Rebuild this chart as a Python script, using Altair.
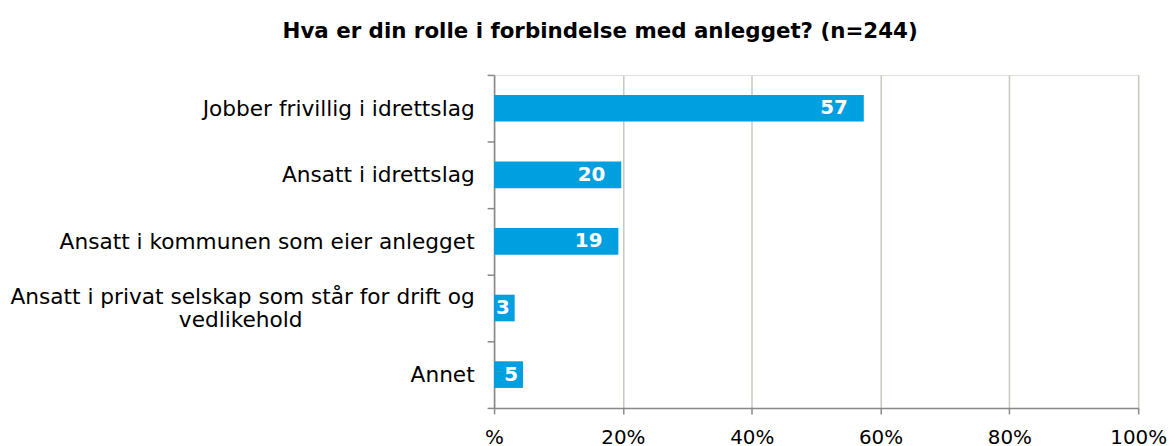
import altair as alt
import pandas as pd
import json

NBSP = "\u00a0"
ZW = "\u200b"

categories = [
    "Jobber frivillig i idrettslag",
    "Ansatt i idrettslag",
    "Ansatt i kommunen som eier anlegget",
    "Ansatt i privat selskap som står for drift og",
    "Annet",
]
label_lines = [
    ["Jobber frivillig i idrettslag"],
    ["Ansatt i idrettslag"],
    ["Ansatt i kommunen som eier anlegget"],
    ["Ansatt i privat selskap som står for drift og", "vedlikehold" + NBSP * 25 + ZW],
    ["Annet"],
]
values = [57.4, 19.75, 19.3, 3.2, 4.5]
labels = ["57", "20", "19", "3", "5"]
x_ticks = [0, 20, 40, 60, 80, 100]

df = pd.DataFrame({"cat": categories, "value": values, "label": labels})

label_map = json.dumps(dict(zip(categories, label_lines)), ensure_ascii=False)

FONT = "DejaVu Sans"
BAR = "#009FDF"

y_enc = alt.Y(
    "cat:N",
    sort=categories,
    title=None,
    scale=alt.Scale(paddingInner=0, paddingOuter=0),
    axis=alt.Axis(
        labelExpr=f"{label_map}[datum.value]",
        labelFont=FONT,
        labelFontSize=21.8,
        labelColor="#000000",
        labelPadding=13,
        labelLineHeight=24,
        labelLimit=600,
        labelOffset={
            "condition": {"test": f"datum.value == '{categories[3]}'", "value": -12},
            "value": 0,
        },
        tickBand="extent",
        tickSize=7,
        tickColor="#888888",
        domainColor="#888888",
        domainWidth=1.5,
        tickWidth=1.5,
        grid=False,
    ),
)

x_enc = alt.X(
    "value:Q",
    title=None,
    scale=alt.Scale(domain=[0, 100], nice=False),
    axis=alt.Axis(
        values=x_ticks,
        labelExpr="datum.value == 0 ? '%' : datum.value + '%'",
        labelFont=FONT,
        labelFontSize=20,
        labelColor="#000000",
        labelPadding=14,
        labelFlush=False,
        tickSize=6,
        tickColor="#888888",
        domainColor="#888888",
        domainWidth=1.5,
        tickWidth=1.5,
        gridColor="#C8C8BE",
        gridWidth=1.5,
        gridOpacity=1,
    ),
)

bars = alt.Chart(df).mark_bar(color=BAR, height={"band": 0.4}).encode(x=x_enc, y=y_enc)

big = alt.Chart(df).transform_filter("datum.value >= 10").mark_text(
    align="right", baseline="middle", dx=-16, font=FONT, fontSize=20,
    fontWeight="bold", color="white"
).encode(x="value:Q", y=alt.Y("cat:N", sort=categories), text="label:N")

small = alt.Chart(df).transform_filter("datum.value < 10").mark_text(
    align="right", baseline="middle", dx=-5, font=FONT, fontSize=20,
    fontWeight="bold", color="white"
).encode(x="value:Q", y=alt.Y("cat:N", sort=categories), text="label:N")

chart = (
    alt.layer(bars, big, small)
    .properties(
        width=648,
        height=335,
        title=alt.TitleParams(
            "Hva er din rolle i forbindelse med anlegget? (n=244)",
            font=FONT,
            fontSize=21.5,
            fontWeight="bold",
            color="#000000",
            anchor="middle",
            frame="bounds",
            offset=23,
            dx=12,
        ),
        padding={"left": 1, "top": 11, "right": 0, "bottom": 0},
    )
    .configure_view(stroke=None)
    .configure(background="white")
)

chart.save("out.html", embed_options={"renderer": "svg", "actions": False})
